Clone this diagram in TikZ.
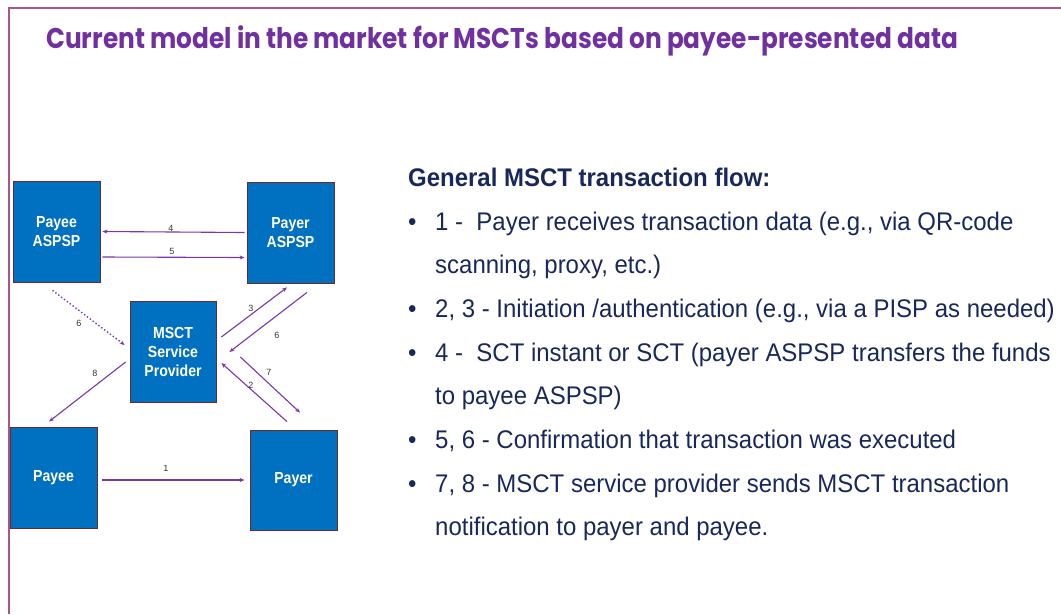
\documentclass[tikz,border=0pt]{standalone}
\usepackage{fontspec}
\setmainfont{Liberation Sans}
\newfontfamily\bodyfont[FakeStretch=0.94]{Liberation Sans}
\newfontfamily\boxfont[FakeStretch=0.88]{Liberation Sans}
\newfontfamily\titlefont[FakeStretch=0.87]{Poppins}
\usetikzlibrary{arrows.meta}
\definecolor{framecol}{RGB}{170,85,130}
\definecolor{titlecol}{RGB}{112,48,160}
\definecolor{navy}{RGB}{25,40,90}
\definecolor{boxblue}{RGB}{0,112,192}
\definecolor{boxedge}{RGB}{110,40,40}
\definecolor{flowcol}{RGB}{120,55,170}
\begin{document}
\begin{tikzpicture}[x=1pt,y=-1pt,
  bank/.style={draw=boxedge, fill=boxblue, line width=0.8pt, minimum width=87pt, minimum height=101pt, inner sep=0pt, text=white, font=\boxfont\bfseries\fontsize{16}{19}\selectfont, align=center},
  flow/.style={draw=flowcol, line width=1.1pt, -{Stealth[length=5pt,width=4pt]}},
  num/.style={font=\fontsize{9}{10}\selectfont, text=black!80, inner sep=0pt},
  txt/.style={anchor=base west, inner sep=0pt, text=navy, font=\bodyfont\fontsize{25.5}{30}\selectfont}]
\useasboundingbox (0,0) rectangle (1061,614);
\draw[framecol, line width=2pt] (1061,8) -- (9,8) -- (9,614);
\node[anchor=base west, inner sep=0pt, text=titlecol, font=\titlefont\bfseries\fontsize{28.5}{32}\selectfont] (title) at (46,48) {Current model in the market for MSCTs based on payee-presented data};

% the five parties
\node[bank] (payeeA) at (56.5,231.5) {Payee\\ASPSP};
\node[bank] (payerA) at (290.5,232.5) {Payer\\ASPSP};
\node[bank, minimum width=86pt] (msct) at (173,351.5) {MSCT\\Service\\Provider};
\node[bank] (payee) at (53.5,477.5) {Payee};
\node[bank, minimum height=100pt] (payer) at (293.5,480) {Payer};

% flows
\path[flow] ([xshift=-2pt]payerA.west) -- ([xshift=2pt]payeeA.east);
\path[flow] ([xshift=2pt,yshift=-25.5pt]payeeA.east) -- ([xshift=-2pt,yshift=-25pt]payerA.west);
\path[flow, line width=1.4pt, dash pattern=on 1.4pt off 2.2pt] ([xshift=-4pt,yshift=-8pt]payeeA.south) -- ([xshift=-5pt,yshift=6.5pt]msct.west);
\path[flow] ([xshift=5pt,yshift=14.5pt]msct.east) -- ([xshift=-3.5pt,yshift=-4pt]payerA.south);
\path[flow] ([xshift=16.5pt,yshift=-9pt]payerA.south) -- ([xshift=13pt,yshift=-0.5pt]msct.east);
\path[flow] ([xshift=24pt,yshift=-5.5pt]msct.east) -- ([xshift=6.5pt,yshift=17pt]payer.north);
\path[flow] ([xshift=-6.5pt,yshift=8pt]payer.north) -- ([xshift=5pt,yshift=-11.5pt]msct.east);
\path[flow] ([xshift=-4pt,yshift=-10.5pt]msct.west) -- ([xshift=-4.5pt,yshift=5pt]payee.north);
\path[flow] ([xshift=5pt,yshift=-2.5pt]payee.east) -- ([xshift=-5pt]payer.west);

% step numbers
\node[num] (n4) at (171,228) {4};
\node[num] (n5) at (172,251) {5};
\node[num] (n6a) at (79,323) {6};
\node[num] (n3) at (251,308) {3};
\node[num] (n6b) at (277,335) {6};
\node[num] (n7) at (269,372) {7};
\node[num] (n2) at (251,385) {2};
\node[num] (n8) at (95,373) {8};
\node[num] (n1) at (166,468) {1};

% flow description
\node[txt, font=\bodyfont\bfseries\fontsize{25.5}{30}\selectfont] (head) at (408,186) {General MSCT transaction flow:};
\node[txt] (b1) at (408,230) {\textbullet};
\node[txt] (t1) at (435,230) {1 -\ \ Payer receives transaction data (e.g., via QR-code};
\node[txt] (t1b) at (435,273.7) {scanning, proxy, etc.)};
\node[txt] (b2) at (408,317.4) {\textbullet};
\node[txt] (t2) at (435,317.4) {2, 3 - Initiation /authentication (e.g., via a PISP as needed)};
\node[txt] (b3) at (408,361.1) {\textbullet};
\node[txt] (t3) at (435,361.1) {4 -\ \ SCT instant or SCT (payer ASPSP transfers the funds};
\node[txt] (t3b) at (435,404.8) {to payee ASPSP)};
\node[txt] (b4) at (408,448.5) {\textbullet};
\node[txt] (t4) at (435,448.5) {5, 6 - Confirmation that transaction was executed};
\node[txt] (b5) at (408,492.2) {\textbullet};
\node[txt] (t5) at (435,492.2) {7, 8 - MSCT service provider sends MSCT transaction};
\node[txt] (t5b) at (435,535.9) {notification to payer and payee.};
\end{tikzpicture}
\end{document}
